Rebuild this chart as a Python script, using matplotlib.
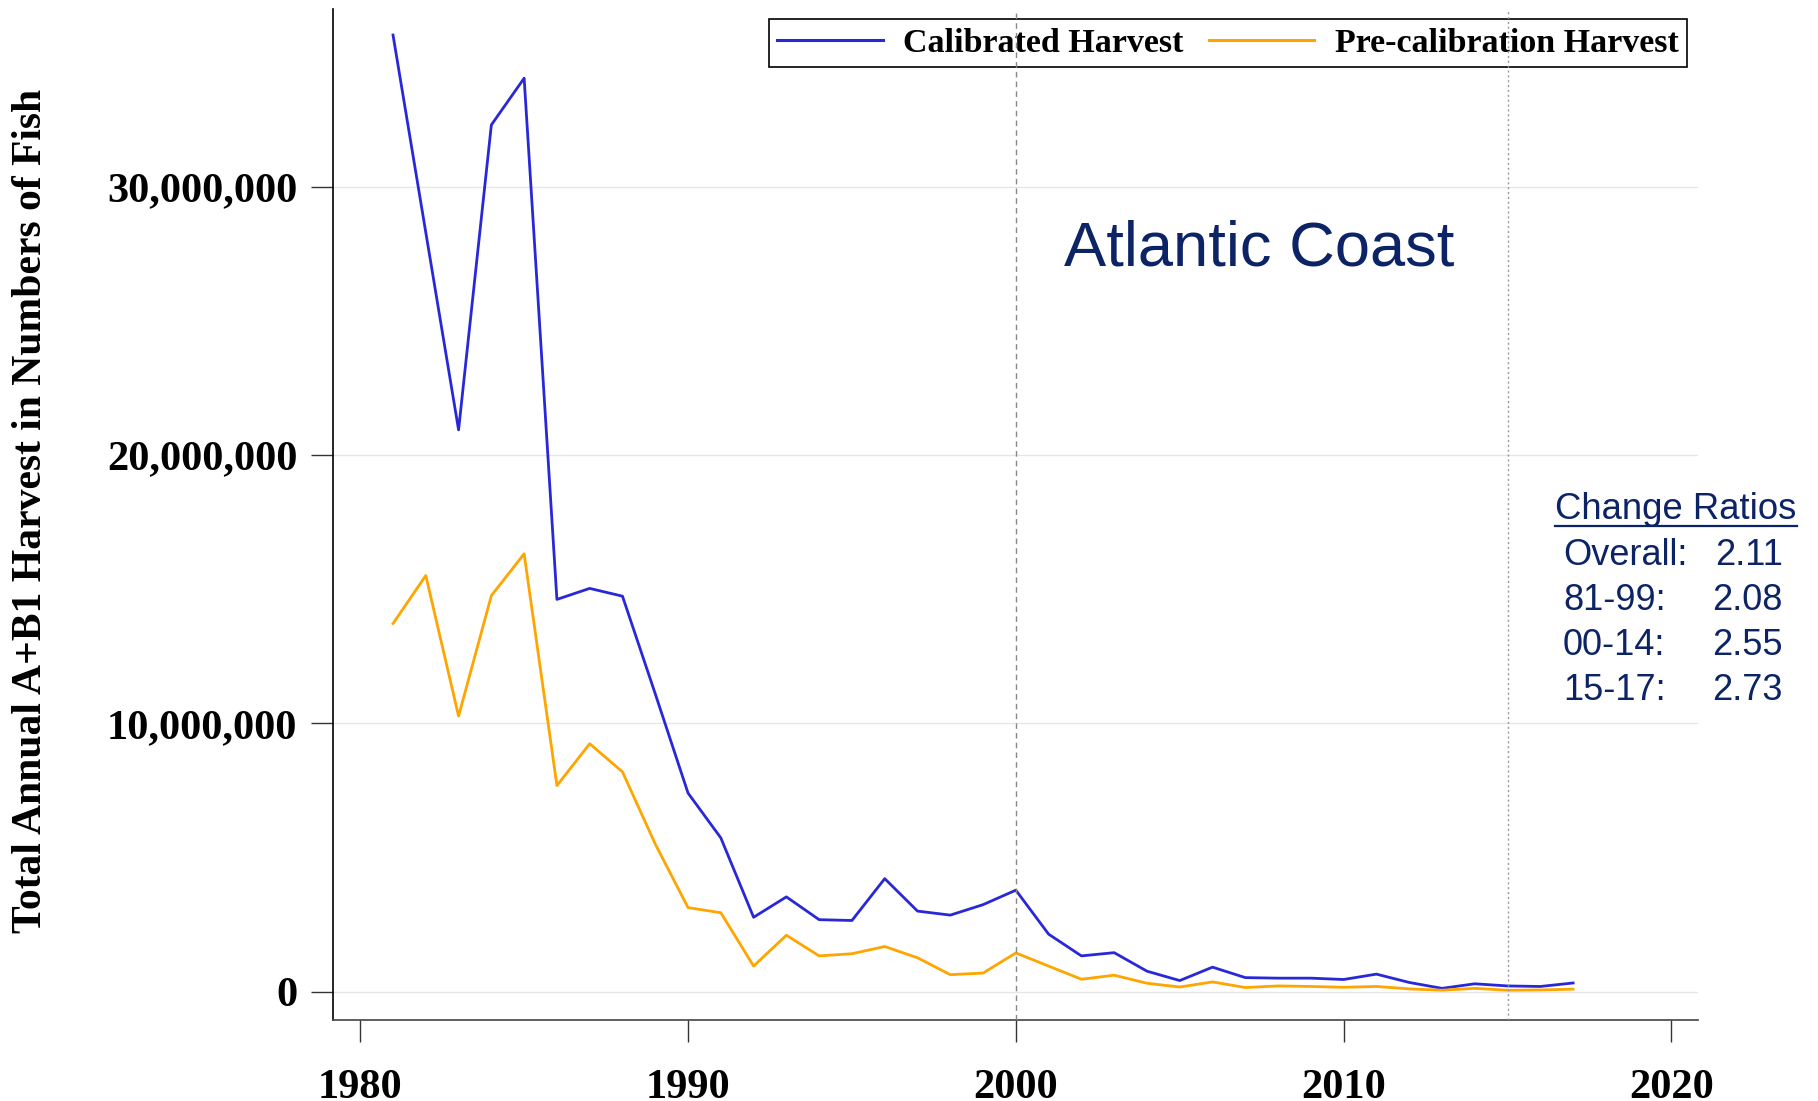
import matplotlib
matplotlib.use("Agg")
import matplotlib.pyplot as plt
from matplotlib import font_manager
from matplotlib.lines import Line2D
from matplotlib.ticker import FuncFormatter

# data (numbers of fish, millions)
years = list(range(1981, 2018))
calibrated = [35.66, 28.3, 20.94, 32.31, 34.05, 14.62, 15.03, 14.74, 11.1, 7.40,
              5.73, 2.77, 3.53, 2.68, 2.65, 4.21, 3.00, 2.85, 3.24, 3.78,
              2.14, 1.33, 1.45, 0.76, 0.41, 0.91, 0.52, 0.50, 0.50, 0.45,
              0.65, 0.34, 0.12, 0.29, 0.21, 0.19, 0.32]
precal = [13.72, 15.51, 10.27, 14.76, 16.32, 7.68, 9.24, 8.19, 5.50, 3.13,
          2.94, 0.95, 2.10, 1.33, 1.41, 1.68, 1.26, 0.63, 0.69, 1.44,
          0.95, 0.46, 0.61, 0.31, 0.17, 0.36, 0.15, 0.21, 0.19, 0.16,
          0.19, 0.10, 0.05, 0.12, 0.05, 0.06, 0.09]
calibrated = [v * 1e6 for v in calibrated]
precal = [v * 1e6 for v in precal]

xticks = [1980, 1990, 2000, 2010, 2020]
yticks = [0, 10e6, 20e6, 30e6]
period_breaks = [2000, 2015]

ratio_labels = ["Overall:", "81-99:", "00-14:", "15-17:"]
ratio_values = ["2.11", "2.08", "2.55", "2.73"]

navy = "#0C2366"
serif = "Liberation Serif"
names = {f.name for f in font_manager.fontManager.ttflist}
if "Liberation Sans Narrow" in names:
    title_font, title_size = "Liberation Sans Narrow", 53
else:
    title_font, title_size = "Liberation Sans", 45.5

W, H = 1818, 1101
fig = plt.figure(figsize=(W / 100, H / 100), dpi=100)
ax = fig.add_axes([332.7 / W, 1 - 1020 / H, (1698 - 332.7) / W, (1020 - 9) / H])

ax.plot(years, calibrated, color="#2828D8", lw=2.0, label="Calibrated Harvest")
ax.plot(years, precal, color="#FFA500", lw=2.0, label="Pre-calibration Harvest")

ax.axvline(period_breaks[0], color="#888888", lw=1, ls=(0, (4, 3)), zorder=6)
ax.axvline(period_breaks[1], color="#999999", lw=1, ls=(0, (1.5, 2)), zorder=6)

ax.set_xlim(1979.16, 2020.81)
ax.set_ylim(-1.06e6, 36.63e6)
ax.set_xticks(xticks)
ax.set_yticks(yticks)
ax.yaxis.set_major_formatter(FuncFormatter(lambda v, p: f"{v:,.0f}"))
ax.grid(axis="y", color="#E6E6E6", lw=1)
ax.set_axisbelow(True)

for s in ["top", "right"]:
    ax.spines[s].set_visible(False)
ax.spines["left"].set_color("black")
ax.spines["bottom"].set_color("#444444")
ax.spines["left"].set_linewidth(1.2)
ax.spines["bottom"].set_linewidth(1.2)

ax.tick_params(axis="both", direction="out", length=15.6, width=1, colors="#333333")
ax.tick_params(axis="y", pad=10)
ax.tick_params(axis="x", pad=20)
for lab in ax.get_xticklabels() + ax.get_yticklabels():
    lab.set_fontfamily(serif)
    lab.set_fontweight("bold")
    lab.set_fontsize(30.5)
    lab.set_color("black")

fig.text(31 / W, 1 - 511 / H, "Total Annual A+B1 Harvest in Numbers of Fish",
         rotation=90, ha="center", va="center", family=serif,
         weight="bold", fontsize=30)

leg = ax.legend(loc="upper right", bbox_to_anchor=(0.992, 0.990), ncol=2,
                prop={"family": serif, "weight": "bold", "size": 24.5},
                handlelength=3.1, handletextpad=0.6, columnspacing=0.75,
                borderpad=0.25, borderaxespad=0, fancybox=False,
                edgecolor="black", facecolor="none", framealpha=1)
leg.get_frame().set_linewidth(1.2)
for ln in leg.get_lines():
    ln.set_linewidth(2.2)

fig.text(1259 / W, 1 - 265 / H, "Atlantic Coast", ha="center", va="baseline",
         family=title_font, fontsize=title_size, color=navy)

head = fig.text(1676 / W, 1 - 519 / H, "Change Ratios", ha="center", va="baseline",
                family="Liberation Sans", fontsize=26.3, color=navy)
for i, (lab, val) in enumerate(zip(ratio_labels, ratio_values)):
    yb = 1 - (565 + 45 * i) / H
    fig.text(1563 / W, yb, lab, ha="left", va="baseline",
             family="Liberation Sans", fontsize=26, color=navy)
    fig.text(1783 / W, yb, val, ha="right", va="baseline",
             family="Liberation Sans", fontsize=26, color=navy)

# underline the heading
fig.canvas.draw()
bb = head.get_window_extent()
uy = 1 - 526 / H
fig.add_artist(Line2D([bb.x0 / W, bb.x1 / W], [uy, uy], color=navy, lw=1.6))

fig.savefig("out.png", dpi=100)
